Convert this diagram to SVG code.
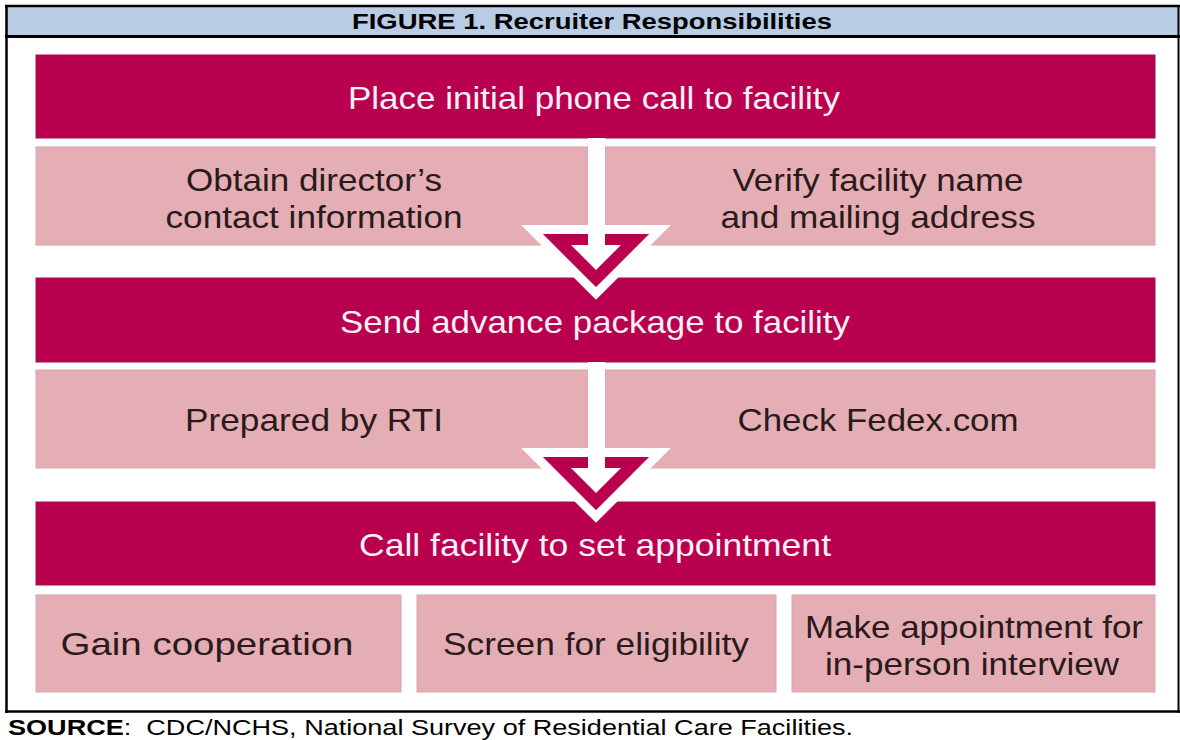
<svg xmlns="http://www.w3.org/2000/svg" width="1180" height="740" viewBox="0 0 1180 740">
<style>
.dark{fill:#b9004e;stroke:#9c1248;stroke-width:1}
.pink{fill:#e4aeb4;stroke:#dca3aa;stroke-width:1}
.wt{font-family:"Liberation Sans",Arial,sans-serif;font-size:32px;fill:#fdf1f6;text-anchor:middle}
.bt{font-family:"Liberation Sans",Arial,sans-serif;font-size:32px;fill:#2a1a1c;text-anchor:middle}
.hd{font-family:"Liberation Sans",Arial,sans-serif;font-size:22px;font-weight:bold;fill:#000;text-anchor:middle}
.src{font-family:"Liberation Sans",Arial,sans-serif;font-size:22px;fill:#000}
.frame{stroke:#000;fill:none}
.tri{fill:#b9004e;stroke:#ffffff;stroke-width:9;stroke-linejoin:miter}
.wf{fill:#ffffff}
</style>
<rect x="0" y="0" width="1180" height="740" fill="#ffffff"/>
<g id="frame">
<rect x="6" y="6" width="1172" height="30" fill="#b8cce4"/>
<line class="frame" x1="5" y1="6" x2="1180" y2="6" stroke-width="2.5"/>
<line class="frame" x1="5" y1="36.5" x2="1180" y2="36.5" stroke-width="3"/>
<line class="frame" x1="5" y1="711.5" x2="1180" y2="711.5" stroke-width="2.5"/>
<line class="frame" x1="6.5" y1="5" x2="6.5" y2="713" stroke-width="2.5"/>
<line class="frame" x1="1178.5" y1="5" x2="1178.5" y2="713" stroke-width="2"/>
<text class="hd" x="592" y="29" textLength="480" lengthAdjust="spacingAndGlyphs">FIGURE 1. Recruiter Responsibilities</text>
</g>
<g id="n-place">
<rect class="dark" x="36" y="55" width="1119" height="83"/>
<text class="wt" x="594" y="109" textLength="492" lengthAdjust="spacingAndGlyphs">Place initial phone call to facility</text>
</g>
<g id="n-obtain">
<rect class="pink" x="36" y="147" width="552" height="98"/>
<text class="bt" x="314" y="191" textLength="256" lengthAdjust="spacingAndGlyphs">Obtain director’s</text>
<text class="bt" x="314" y="228" textLength="297" lengthAdjust="spacingAndGlyphs">contact information</text>
</g>
<g id="n-verify">
<rect class="pink" x="605" y="147" width="550" height="98"/>
<text class="bt" x="878" y="191" textLength="291" lengthAdjust="spacingAndGlyphs">Verify facility name</text>
<text class="bt" x="878" y="228" textLength="315" lengthAdjust="spacingAndGlyphs">and mailing address</text>
</g>
<g id="n-send">
<rect class="dark" x="36" y="278" width="1119" height="84"/>
<text class="wt" x="595" y="333" textLength="510" lengthAdjust="spacingAndGlyphs">Send advance package to facility</text>
</g>
<g id="n-prepared">
<rect class="pink" x="36" y="370" width="552" height="98"/>
<text class="bt" x="314" y="431" textLength="258" lengthAdjust="spacingAndGlyphs">Prepared by RTI</text>
</g>
<g id="n-check">
<rect class="pink" x="605" y="370" width="550" height="98"/>
<text class="bt" x="878" y="431" textLength="281" lengthAdjust="spacingAndGlyphs">Check Fedex.com</text>
</g>
<g id="n-call">
<rect class="dark" x="36" y="502" width="1119" height="83"/>
<text class="wt" x="595" y="556" textLength="472" lengthAdjust="spacingAndGlyphs">Call facility to set appointment</text>
</g>
<g id="n-gain">
<rect class="pink" x="36" y="595" width="365" height="97"/>
<text class="bt" x="207" y="655" textLength="293" lengthAdjust="spacingAndGlyphs">Gain cooperation</text>
</g>
<g id="n-screen">
<rect class="pink" x="417" y="595" width="359" height="97"/>
<text class="bt" x="596" y="655" textLength="306" lengthAdjust="spacingAndGlyphs">Screen for eligibility</text>
</g>
<g id="n-make">
<rect class="pink" x="792" y="595" width="363" height="97"/>
<text class="bt" x="974" y="638" textLength="338" lengthAdjust="spacingAndGlyphs">Make appointment for</text>
<text class="bt" x="972" y="675" textLength="294" lengthAdjust="spacingAndGlyphs">in-person interview</text>
</g>
<g id="connectors">
<g id="arrow-1">
<polygon class="tri" points="532,229.5 660,229.5 596,293.5"/>
<rect class="wf" x="588" y="138" width="17" height="108"/>
<polygon class="wf" points="571,245 621,245 596,270"/>
</g>
<g id="arrow-2">
<polygon class="tri" points="532,452.5 660,452.5 596,516.5"/>
<rect class="wf" x="588" y="362" width="17" height="107"/>
<polygon class="wf" points="571,468 621,468 596,493"/>
</g>
</g>
<g id="source">
<text class="src" transform="translate(8,735) scale(1.23,1)"><tspan font-weight="bold">SOURCE</tspan>:&#160; CDC/NCHS, National Survey of Residential Care Facilities.</text>
</g>
</svg>
